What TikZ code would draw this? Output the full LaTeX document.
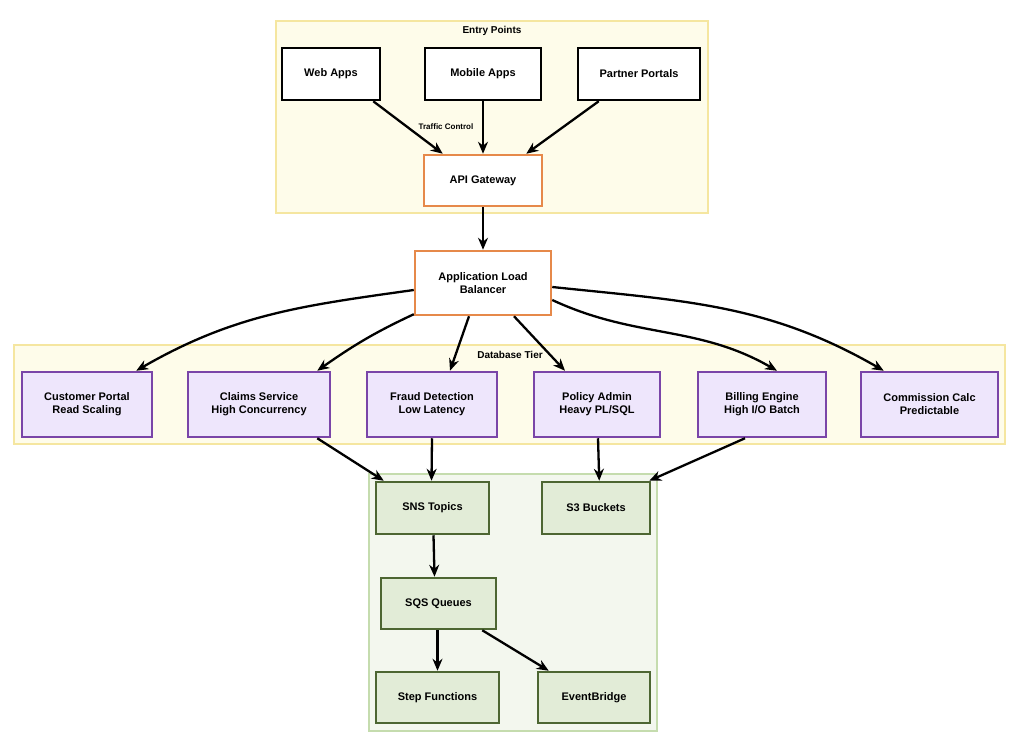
\documentclass[tikz,border=0pt]{standalone}
\usepackage{fontspec}
\setmainfont{Liberation Sans}
\usetikzlibrary{arrows.meta}
\begin{document}
\begin{tikzpicture}[x=1pt,y=-1pt,
 box/.style={draw=black,line width=2.5pt,fill=white,font=\bfseries\fontsize{11}{13}\selectfont,align=center,inner sep=0pt},
 org/.style={box,draw={rgb,255:red,230;green,137;blue,74}},
 pur/.style={box,draw={rgb,255:red,122;green,69;blue,168},fill={rgb,255:red,238;green,230;blue,252}},
 grn/.style={box,draw={rgb,255:red,77;green,102;blue,50},fill={rgb,255:red,226;green,236;blue,215}},
 clus/.style={line width=2pt},
 ar/.style={-{Stealth[length=12pt,width=10pt]},line width=2.3pt},
 lab/.style={font=\bfseries\fontsize{10}{12}\selectfont}]
\useasboundingbox (0,0) rectangle (1024,746);
\definecolor{yf}{RGB}{254,252,234}\definecolor{yb}{RGB}{245,230,160}
\definecolor{gf}{RGB}{243,247,238}\definecolor{gb}{RGB}{197,220,174}
\draw[clus,fill=yf,draw=yb] (276,21) rectangle (708,213);
\node[lab] (ept) at (492,31) {Entry Points};
\draw[clus,fill=yf,draw=yb] (14,345) rectangle (1005,444);
\node[lab] (dbt) at (510,355) {Database Tier};
\draw[clus,fill=gf,draw=gb] (369,474) rectangle (657,731);
\newcommand{\bx}[7]{\node[#1,minimum width=#4-#3,minimum height=#6-#5] (#2) at ({(#3+#4)/2},{(#5+#6)/2}) {#7};}
\bx{box}{web}{282}{380}{48}{100}{Web Apps}
\bx{box}{mob}{425}{541}{48}{100}{Mobile Apps}
\bx{box}{par}{578}{700}{48}{100}{Partner Portals}
\bx{org}{api}{424}{542}{155}{206}{API Gateway}
\bx{org}{alb}{415}{551}{251}{315}{Application Load\\Balancer}
\bx{pur}{cus}{22}{152}{372}{437}{Customer Portal\\Read Scaling}
\bx{pur}{cla}{188}{330}{372}{437}{Claims Service\\High Concurrency}
\bx{pur}{fra}{367}{497}{372}{437}{Fraud Detection\\Low Latency}
\bx{pur}{pol}{534}{660}{372}{437}{Policy Admin\\Heavy PL/SQL}
\bx{pur}{bil}{698}{826}{372}{437}{Billing Engine\\High I/O Batch}
\bx{pur}{com}{861}{998}{372}{437}{Commission Calc\\Predictable}
\bx{grn}{sns}{376}{489}{482}{534}{SNS Topics}
\bx{grn}{s3}{542}{650}{482}{534}{S3 Buckets}
\bx{grn}{sqs}{381}{496}{578}{629}{SQS Queues}
\bx{grn}{stp}{376}{499}{672}{723}{Step Functions}
\bx{grn}{evb}{538}{650}{672}{723}{EventBridge}
\draw[ar] ([xshift=-8pt]web.south east) -- ([xshift=20pt]api.north west);
\draw[ar] (mob.south) -- (api.north);
\draw[ar] ([xshift=22pt]par.south west) -- ([xshift=-17pt]api.north east);
\node[lab,font=\bfseries\fontsize{8}{10}\selectfont,inner sep=1pt] (tc) at (446,127) {Traffic Control};
\draw[ar] (api) -- (alb);
\draw[ar] ([yshift=-7pt]alb.west) to[out=188,in=30] ([xshift=-17pt]cus.north east);
\draw[ar] ([yshift=2pt]alb.south west) to[out=205,in=35] ([xshift=-14pt]cla.north east);
\draw[ar] ([xshift=-14pt]alb.south) -- ([xshift=18pt]fra.north);
\draw[ar] ([xshift=31pt]alb.south) -- ([xshift=-32pt]pol.north);
\draw[ar] ([yshift=-17pt]alb.east) to[out=-25,in=150] ([xshift=15pt]bil.north);
\draw[ar] ([yshift=-4pt]alb.east) to[out=-6,in=150] ([xshift=24pt]com.north west);
\draw[ar] ([xshift=-14pt]cla.south east) -- ([xshift=9pt]sns.north west);
\draw[ar] (fra.south) -- ([xshift=-1pt]sns.north);
\draw[ar] ([xshift=1pt]pol.south) -- ([xshift=-52pt]s3.north east);
\draw[ar] ([xshift=-17pt]bil.south) -- ([xshift=-2pt]s3.north east);
\draw[ar] ([xshift=1pt]sns.south) -- ([xshift=-4pt]sqs.north);
\draw[ar] ([xshift=-1pt]sqs.south) -- (stp.north);
\draw[ar] ([xshift=-15pt]sqs.south east) -- ([xshift=12pt]evb.north west);
\end{tikzpicture}
\end{document}
